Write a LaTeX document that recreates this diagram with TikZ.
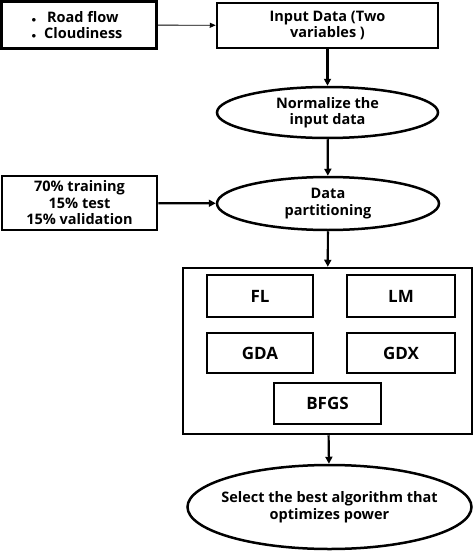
\documentclass[tikz,border=0pt]{standalone}
\usepackage{fontspec}
\setmainfont{Open Sans}
\usetikzlibrary{arrows.meta,shapes.geometric}
\begin{document}
\begin{tikzpicture}[x=1pt,y=-1pt,
  every node/.style={font=\bfseries\fontsize{14.5}{16.5}\selectfont, align=center, inner sep=0pt},
  algtext/.style={font=\bfseries\fontsize{17}{19}\selectfont},
  boxnode/.style={draw, line width=2.5pt, rectangle},
  ellnode/.style={draw, line width=2.5pt, ellipse},
  arr/.style={line width=2.2pt, -{Triangle[length=7pt,width=7pt]}},
  thinarr/.style={line width=0.9pt, -{Triangle[length=6pt,width=5pt]}}]
\useasboundingbox (0,0) rectangle (474,551);
\node[boxnode, minimum width=155pt, minimum height=47pt] (src) at (79,25) {};
\node[align=left] (srctext) at (77,25) {{\fontsize{9}{9}\selectfont$\bullet$}\hspace{11pt}Road flow\\{\fontsize{9}{9}\selectfont$\bullet$}\hspace{8pt}Cloudiness};
\node[boxnode, minimum width=221pt, minimum height=45pt] (inp) at (327.5,25.5) {Input Data (Two\\variables )};
\node[ellnode, minimum width=221pt, minimum height=51pt] (norm) at (327.5,112.5) {Normalize the\\input data};
\node[boxnode, minimum width=155pt, minimum height=54pt] (split) at (79.5,203) {70\% training\\15\% test\\15\% validation};
\node[ellnode, minimum width=222pt, minimum height=53pt] (part) at (328,203.5) {Data\\partitioning};
\node[boxnode, minimum width=289pt, minimum height=166pt] (algs) at (327.5,351) {};
\node[boxnode, algtext, minimum width=106pt, minimum height=42pt] (fl) at (260,296) {FL};
\node[boxnode, algtext, minimum width=108pt, minimum height=42pt] (lm) at (401,296) {LM};
\node[boxnode, algtext, minimum width=106pt, minimum height=40pt] (gda) at (260,353) {GDA};
\node[boxnode, algtext, minimum width=108pt, minimum height=40pt] (gdx) at (401,353) {GDX};
\node[boxnode, algtext, minimum width=107pt, minimum height=41pt] (bfgs) at (327.5,403.5) {BFGS};
\node[ellnode, inner xsep=-20pt, minimum width=284pt, minimum height=84pt] (best) at (329.5,507) {Select the best algorithm that\\optimizes power};
\draw[thinarr] (src) -- (inp);
\draw[arr] (inp) -- (norm);
\draw[arr] (norm) -- (part);
\draw[arr] (split) -- (part);
\draw[arr] (part) -- (algs);
\draw[arr] (algs) -- (best);
\end{tikzpicture}
\end{document}
